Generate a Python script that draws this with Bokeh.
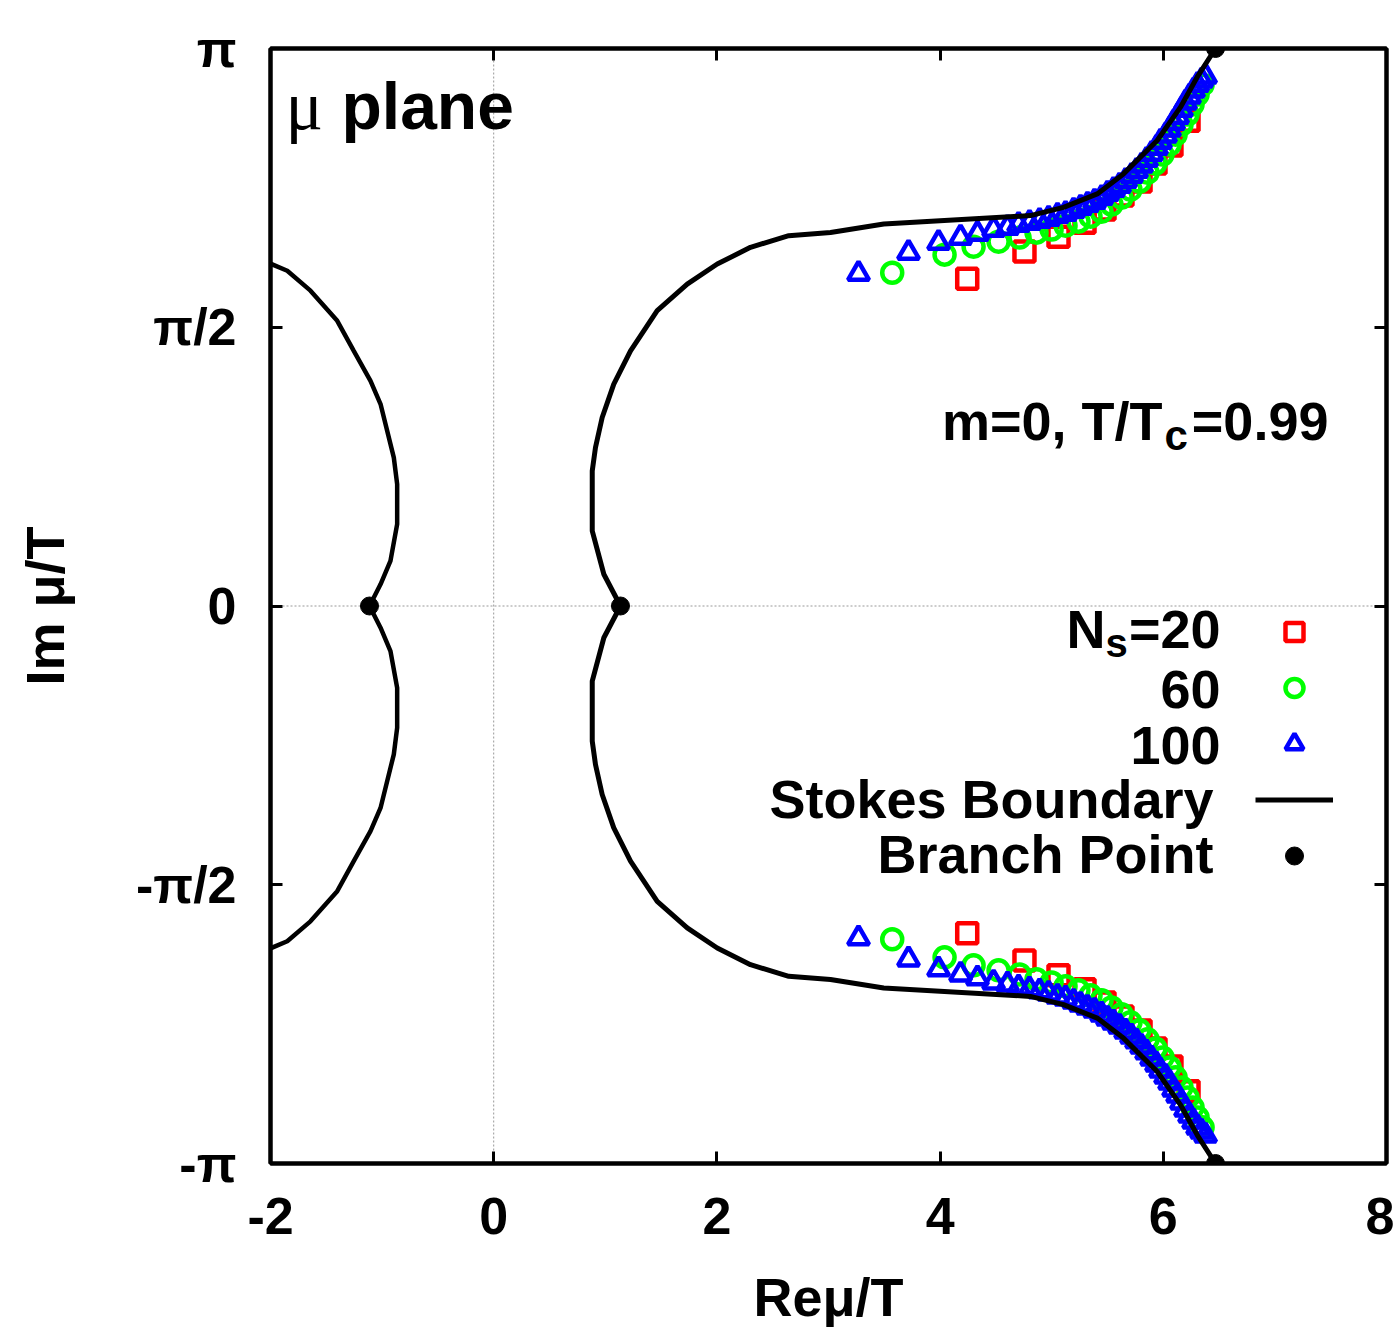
import numpy as np
from bokeh.plotting import figure
from bokeh.models import (Range1d, FixedTicker, CustomJSTickFormatter, LinearAxis,
                          Span, Label, Legend, LegendItem)
from bokeh.core.properties import value
from bokeh.embed import file_html
from bokeh.resources import INLINE

PI = np.pi

# ---------------- data (upper half plane; lower half = complex conjugates) -------------
n20_re = [4.243, 4.756, 5.061, 5.294, 5.473, 5.634, 5.796, 5.930, 6.073, 6.226]
n20_im = [1.844, 1.997, 2.081, 2.160, 2.234, 2.313, 2.392, 2.493, 2.595, 2.735]

n60_re = [3.571, 4.040, 4.300, 4.524, 4.712, 4.864, 4.999, 5.124, 5.240, 5.348,
          5.447, 5.536, 5.626, 5.706, 5.787, 5.859, 5.930, 5.993, 6.056, 6.110,
          6.163, 6.217, 6.262, 6.307, 6.352]
n60_im = [1.878, 1.980, 2.025, 2.053, 2.076, 2.104, 2.121, 2.143, 2.166, 2.194,
          2.222, 2.262, 2.301, 2.346, 2.391, 2.442, 2.493, 2.544, 2.600, 2.656,
          2.713, 2.769, 2.826, 2.882, 2.938]

n100_re = [3.269, 3.717, 3.986, 4.183, 4.335, 4.479, 4.604, 4.703, 4.801, 4.891,
           4.972, 5.052, 5.124, 5.196, 5.258, 5.321, 5.384, 5.447, 5.500, 5.554,
           5.608, 5.662, 5.715, 5.760, 5.805, 5.850, 5.895, 5.939, 5.975, 6.020,
           6.056, 6.092, 6.128, 6.163, 6.199, 6.235, 6.271, 6.307, 6.343, 6.379]
n100_im = [1.872, 1.991, 2.047, 2.076, 2.098, 2.121, 2.132, 2.149, 2.160, 2.171,
           2.183, 2.200, 2.211, 2.228, 2.245, 2.262, 2.279, 2.301, 2.324, 2.346,
           2.369, 2.397, 2.425, 2.453, 2.482, 2.515, 2.549, 2.583, 2.617, 2.651,
           2.685, 2.724, 2.758, 2.797, 2.837, 2.871, 2.905, 2.938, 2.961, 2.984]

stokes_r_re = [1.136, 0.987, 0.883, 0.883, 0.912, 0.972, 1.076, 1.226, 1.465, 1.734,
               2.003, 2.301, 2.644, 3.018, 3.495, 4.810, 5.106, 5.408, 5.643, 5.945,
               6.154, 6.303, 6.468]
stokes_r_im = [0.0, 0.179, 0.423, 0.761, 0.893, 1.062, 1.250, 1.438, 1.664, 1.814,
               1.927, 2.021, 2.087, 2.105, 2.153, 2.200, 2.246, 2.322, 2.435, 2.623,
               2.811, 2.980, 3.1416]

stokes_l_re = [-1.113, -1.014, -0.925, -0.865, -0.865, -0.895, -1.014, -1.104, -1.254,
               -1.402, -1.642, -1.850, -2.0]
stokes_l_im = [0.0, 0.122, 0.254, 0.461, 0.686, 0.836, 1.138, 1.269, 1.438,
               1.607, 1.777, 1.889, 1.929]

branch_re = [6.468, 1.136, -1.113, 6.468]
branch_im = [3.1416, 0.0, 0.0, -3.1416]

x_ticks = [-2, 0, 2, 4, 6, 8]
x_tick_labels = ["-2", "0", "2", "4", "6", "8"]
y_ticks = [-PI, -PI / 2, 0, PI / 2, PI]
y_tick_labels = ["-π", "-π/2", "0", "π/2", "π"]


def conj_points(re, im):
    return list(re) + list(re), list(im) + [-v for v in im]


def conj_curve(re, im):
    return list(re[::-1]) + list(re[1:]), [-v for v in im[::-1]] + list(im[1:])


SANS = "Liberation Sans"
SERIF = "Liberation Serif"

p = figure(width=1394, height=1330, x_range=Range1d(-2, 8), y_range=Range1d(-PI, PI),
           output_backend="svg", toolbar_location=None,
           min_border_left=270, min_border_right=8, min_border_top=48, min_border_bottom=167)
p.xaxis.visible = False
p.yaxis.visible = False
p.xgrid.visible = False
p.ygrid.visible = False
p.outline_line_color = "black"
p.outline_line_width = 4
p.background_fill_color = "white"
p.border_fill_color = "white"

FMT_CODE = """
const i = tv.findIndex(t => Math.abs(t - tick) < 1e-6);
return i >= 0 ? tl[i] : "";
"""
xfmt = CustomJSTickFormatter(args=dict(tv=x_ticks, tl=x_tick_labels), code=FMT_CODE)
yfmt = CustomJSTickFormatter(args=dict(tv=y_ticks, tl=y_tick_labels), code=FMT_CODE)
blank = CustomJSTickFormatter(code="return '';")


def style_axis(ax):
    ax.axis_line_width = 4
    ax.axis_line_color = "black"
    ax.major_tick_in = 12
    ax.major_tick_out = 0
    ax.major_tick_line_width = 3
    ax.minor_tick_line_color = None
    ax.major_label_text_font = SANS
    ax.major_label_text_font_style = "bold"
    ax.major_label_text_font_size = "52px"
    ax.major_label_text_color = "black"
    ax.axis_label_text_font = SANS
    ax.axis_label_text_font_style = "bold"
    ax.axis_label_text_font_size = "54px"
    ax.axis_label_text_color = "black"


xb = LinearAxis(ticker=FixedTicker(ticks=x_ticks), formatter=xfmt, axis_label="Reμ/T")
style_axis(xb)
xb.major_label_standoff = 34
xb.axis_label_standoff = 30
p.add_layout(xb, "below")

yl = LinearAxis(ticker=FixedTicker(ticks=y_ticks), formatter=yfmt, axis_label="Im μ/T")
style_axis(yl)
yl.major_label_standoff = 34
yl.axis_label_standoff = 58
p.add_layout(yl, "left")

xt = LinearAxis(ticker=FixedTicker(ticks=x_ticks), formatter=blank)
style_axis(xt)
xt.major_label_text_font_size = "0px"
xt.major_label_standoff = 0
p.add_layout(xt, "above")

yr = LinearAxis(ticker=FixedTicker(ticks=y_ticks), formatter=blank)
style_axis(yr)
yr.major_label_text_font_size = "0px"
yr.major_label_standoff = 0
p.add_layout(yr, "right")

# zero lines
p.add_layout(Span(location=0, dimension="height", line_color="#999999", line_width=1,
                  line_dash="2 2", level="underlay"))
p.add_layout(Span(location=0, dimension="width", line_color="#999999", line_width=1,
                  line_dash="2 2", level="underlay"))

# data
x, y = conj_points(n20_re, n20_im)
r20 = p.scatter(x, y, marker="square", size=20, fill_color=None, line_color="#ff0000", line_width=4.5)
x, y = conj_points(n60_re, n60_im)
r60 = p.scatter(x, y, marker="circle", size=20, fill_color=None, line_color="#00ff00", line_width=4.5)
x, y = conj_points(n100_re, n100_im)
r100 = p.scatter(x, y, marker="triangle", size=21, fill_color=None, line_color="#0000ff", line_width=4.5)

x, y = conj_curve(stokes_r_re, stokes_r_im)
rs = p.line(x, y, line_color="black", line_width=5)
x, y = conj_curve(stokes_l_re, stokes_l_im)
p.line(x, y, line_color="black", line_width=4.5)

rb = p.scatter(branch_re, branch_im, marker="circle", size=18, fill_color="black", line_color="black")

# legend glyphs (labels drawn separately so that text sits to the left)
legend = Legend(items=[LegendItem(label=value(" "), renderers=[r]) for r in (r20, r60, r100, rs, rb)],
                location=(985, 285), orientation="vertical", glyph_width=78, glyph_height=45,
                spacing=11, padding=0, margin=0, label_standoff=0, label_width=0, label_height=0,
                label_text_font_size="1px", border_line_alpha=0, background_fill_alpha=0)
p.add_layout(legend)


def lab(x, y, text, size="54px", align="right", font=SANS, style="bold"):
    p.add_layout(Label(x=x, y=y, text=text, text_font=font, text_font_style=style,
                       text_font_size=size, text_align=align, text_baseline="alphabetic",
                       text_color="black"))


# legend texts
lab(5.482, -0.130, "N")
lab(5.482, -0.209, "s", size="40px", align="left")
lab(6.513, -0.130, "=20")
lab(6.513, -0.469, "60")
lab(6.513, -0.785, "100")
lab(6.450, -1.085, "Stokes Boundary")
lab(6.450, -1.395, "Branch Point")

# annotations
lab(-1.866, 2.820, "μ", size="70px", align="left", font=SERIF, style="normal")
lab(-1.364, 2.820, "plane", size="66px", align="left")
lab(5.993, 1.044, "m=0, T/T")
lab(6.011, 0.959, "c", size="42px", align="left")
lab(7.480, 1.044, "=0.99")

open("out.html", "w").write(file_html(p, INLINE))
